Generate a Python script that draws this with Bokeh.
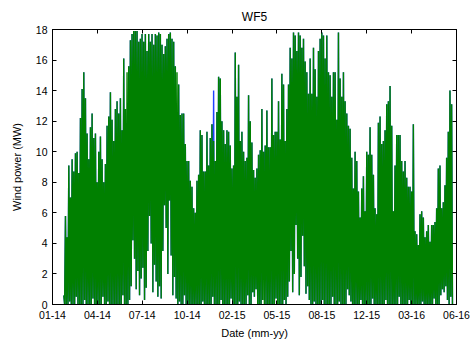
from bokeh.plotting import figure
from bokeh.models import Range1d, LinearAxis, FixedTicker, ColumnDataSource, CustomJSTickFormatter
from bokeh.embed import file_html
from bokeh.resources import INLINE

# ---- data ----
title = "WF5"
tick_days = [0, 100, 200, 300, 400, 500, 600, 700, 800, 900]   # days since 2014-01-01
tick_labels = ["01-14", "04-14", "07-14", "10-14", "02-15", "05-15", "08-15", "12-15", "03-16", "06-16"]
y_ticks = [0, 2, 4, 6, 8, 10, 12, 14, 16, 18]

start_day = 25.2      # first sample (days since 2014-01-01)
step_days = 3.708     # spacing between successive peaks

# upper envelope (peaks) of the power series, MW
peaks = [
    0.6, 5.8, 4.4, 9.1, 7.0, 9.5, 8.7, 9.9, 10.0, 8.6, 12.2, 14.1, 15.2, 13.5, 11.2, 9.5, 11.6, 12.5, 10.9, 11.2,
    8.0, 10.0, 11.0, 9.5, 8.0, 9.2, 11.7, 12.3, 13.9, 12.1, 10.7, 12.8, 13.3, 12.5, 13.5, 11.4, 16.1, 12.8, 15.2, 15.6,
    17.3, 17.7, 17.9, 17.9, 17.9, 17.2, 17.4, 17.7, 17.2, 17.7, 16.6, 17.7, 17.2, 17.7, 17.0, 17.7,
    17.6, 17.8, 17.7, 17.0, 16.4, 16.9, 17.4, 17.7, 17.8, 17.4, 17.2, 15.6, 15.2, 14.4, 12.4, 12.5, 12.5, 10.5, 9.4, 9.4,
    8.1, 7.7, 6.3, 6.0, 8.1, 8.5, 11.4, 11.1, 8.7, 8.7, 11.3, 9.1, 10.9, 11.8, 10.7, 9.4, 12.6, 14.9, 14.8, 12.0,
    11.4, 10.5, 11.4, 11.3, 10.4, 8.9, 9.1, 16.5, 13.6, 15.7, 10.7, 11.3, 10.0, 9.4, 9.6, 13.7, 12.0,
    10.6, 8.8, 8.3, 8.9, 9.8, 10.1, 12.8, 10.0, 10.4, 12.7, 10.3, 10.3, 14.8, 11.1, 11.3, 11.3, 13.3, 10.8, 15.1, 14.4,
    10.7, 12.8, 14.4, 16.8, 16.1, 17.8, 17.6, 16.6, 17.8, 17.6, 16.8, 17.4, 15.9, 15.2, 13.8, 16.1, 13.8, 16.8, 15.4, 13.6,
    16.6, 17.4, 17.8, 17.6, 16.1, 17.6, 15.2, 15.0, 13.6, 15.2, 15.2, 12.1, 17.8, 14.8, 13.6, 15.2, 13.3,
    12.5, 11.7, 11.5, 9.6, 7.6, 10.0, 9.4, 7.4, 5.7, 7.6, 8.4, 6.1, 10.0, 9.8, 11.6, 9.8, 8.5, 6.3, 5.9, 11.9,
    12.3, 10.5, 10.7, 11.4, 13.1, 13.3, 14.3, 11.7, 6.1, 9.1, 11.1, 11.1, 11.1, 9.4, 8.7, 9.4, 8.3, 7.7, 7.7, 7.4,
    11.8, 4.8, 4.6, 3.9, 5.9, 6.1, 5.7, 4.4, 4.8, 5.2, 4.1, 5.2, 5.2, 5.4, 6.3, 8.9, 9.1, 6.3, 6.7, 7.8,
    9.6, 11.3, 14.0, 13.1,
]

# lower envelope (troughs after each peak), MW
lows = [
    0, 0, 0, 0.2, 0, 0, 0, 0.5, 0, 0, 0, 0, 0.3, 0, 0, 0, 0, 0.4, 0, 0,
    0, 0, 0, 0.5, 0, 0, 0.2, 0, 0, 0, 0, 0, 0, 0, 0, 0.6, 0, 0, 0, 0.3,
    1.2, 4.2, 3.0, 1.0, 2.2, 0.6, 1.7, 2.4, 0.3, 1.1, 3.5, 5.8, 4.0, 0.8, 2.6, 1.5,
    0.5, 1.2, 0.4, 3.5, 6.5, 5.0, 2.0, 6.8, 3.2, 0.6, 1.8, 0.4, 0, 0.2, 0, 0, 0.6, 0, 0, 0,
    0, 0, 0, 0, 0, 0, 0, 0.2, 0, 0, 0, 0, 0, 0.5, 0, 0, 0, 0, 0.3, 0,
    0, 0, 0, 0, 0.4, 0, 0, 0, 0, 0.2, 0, 0, 0, 0, 0.6, 0, 0,
    0.8, 0.5, 1.0, 0, 0, 0, 0.3, 0, 0, 0, 0, 0, 0, 0, 0.4, 0, 0, 0, 0, 0.3,
    0, 0.5, 1.5, 3.5, 0.8, 2.0, 5.2, 3.0, 0.6, 1.8, 4.5, 2.5, 0.7, 1.2, 0.3, 0, 0, 0.2, 0, 0,
    0, 0, 0.3, 0, 0, 0, 0, 0, 0.5, 0, 0, 0, 0.2, 0, 0, 0, 0,
    1.0, 0.6, 0.2, 0, 0, 0, 0, 0, 0.3, 0, 0, 0, 0, 0, 0, 0.4, 0, 0, 0, 0,
    0, 0, 0, 0.3, 0, 0, 0, 0, 0, 0, 0, 0.5, 0, 0, 0, 0, 0, 0.3, 0, 0,
    0, 0, 0, 0, 0, 0.2, 0, 0, 0, 0, 0, 0, 0.4, 0, 0, 0, 0.6, 1.0, 0.8, 1.2,
    0.3, 0, 0.5, 0,
]

# places where the blue series differs from the green one (sample index -> MW)
blue_peak_diff = {38: 2.5, 68: 10.5, 90: 14.0}
blue_low_diff = {38: 0.0, 120: 8.0}

# ---- build interleaved series ----
n = min(len(peaks), len(lows))
xs, g_vals, b_vals = [], [], []
for i in range(n):
    xs.append(start_day + i * step_days)
    g_vals.append(peaks[i])
    b_vals.append(blue_peak_diff.get(i, peaks[i]))
    xs.append(start_day + (i + 0.5) * step_days)
    g_vals.append(lows[i])
    b_vals.append(blue_low_diff.get(i, lows[i]))

src = ColumnDataSource(dict(x=xs, green=g_vals, blue=b_vals))

FONT = "Liberation Sans"

p = figure(frame_width=404, frame_height=275, output_backend="svg", toolbar_location=None,
           x_range=Range1d(tick_days[0], tick_days[-1]), y_range=Range1d(0, 18),
           min_border_left=52, min_border_right=14, min_border_top=29, min_border_bottom=41,
           title=title)

p.line("x", "blue", source=src, line_color="#2040ff", line_width=1.4)
p.line("x", "green", source=src, line_color="#008000", line_width=1.4)

p.title.align = "center"
p.title.text_font = FONT
p.title.text_font_size = "12px"
p.title.text_font_style = "normal"
p.title.text_color = "#000000"
p.title.standoff = 11

p.xgrid.visible = False
p.ygrid.visible = False
p.outline_line_color = "black"
p.outline_line_width = 1
p.background_fill_color = "white"
p.border_fill_color = "white"

xt = FixedTicker(ticks=tick_days)
yt = FixedTicker(ticks=y_ticks)
blank = CustomJSTickFormatter(code="return ''")

def style(ax, ticker, labels=True):
    ax.ticker = ticker
    ax.axis_line_color = "black"
    ax.major_tick_line_color = "black"
    ax.major_tick_in = 4
    ax.major_tick_out = 0
    ax.minor_tick_line_color = None
    ax.major_label_text_font = FONT
    ax.major_label_text_color = "#000000"
    ax.axis_label_text_font = FONT
    ax.axis_label_text_font_style = "normal"
    ax.axis_label_text_color = "#000000"
    ax.axis_label_text_font_size = "11px"
    ax.major_label_text_font_size = "10.5px"
    if not labels:
        ax.formatter = blank
        ax.major_label_standoff = 0

xa = p.xaxis[0]
style(xa, xt)
xa.major_label_overrides = {d: l for d, l in zip(tick_days, tick_labels)}
xa.axis_label = "Date (mm-yy)"
xa.major_label_standoff = 6
xa.axis_label_standoff = 5

ya = p.yaxis[0]
style(ya, yt)
ya.axis_label = "Wind power (MW)"
ya.major_label_standoff = 5
ya.axis_label_standoff = 10

top = LinearAxis()
style(top, xt, labels=False)
p.add_layout(top, "above")
right = LinearAxis()
style(right, yt, labels=False)
p.add_layout(right, "right")

open("out.html", "w").write(file_html(p, INLINE))
